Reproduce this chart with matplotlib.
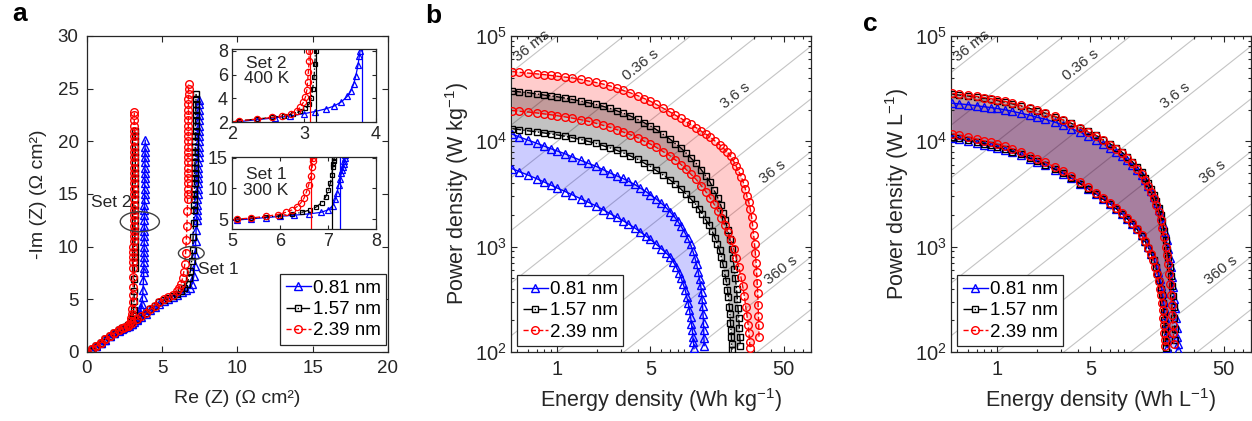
import numpy as np
import matplotlib.pyplot as plt
from matplotlib.patches import Ellipse
from matplotlib.ticker import LogLocator, NullFormatter

plt.rcParams['font.family'] = ['Liberation Sans', 'DejaVu Sans']
plt.rcParams['mathtext.fontset'] = 'custom'
plt.rcParams['mathtext.rm'] = 'Liberation Sans'
plt.rcParams['mathtext.it'] = 'Liberation Sans:italic'
plt.rcParams['mathtext.bf'] = 'Liberation Sans:bold'

INK = '#262626'

# series order: 0.81 nm, 1.57 nm, 2.39 nm
sizes = ['0.81 nm', '1.57 nm', '2.39 nm']
colors = ['blue', 'black', 'red']
markers = ['^', 's', 'o']
lstyles = ['-', '-.', '--']
msizes = [5.5, 4.0, 5.5]

# ---------------- panel a : Nyquist, Set 2 (400 K) ----------------
a2_x_081 = [0.0, 0.3, 0.6, 0.9, 1.2, 1.5, 1.8, 2.1, 2.35, 2.6,
            2.8, 3.0, 3.15, 3.3, 3.42, 3.52, 3.6, 3.65, 3.69, 3.72,
            3.75, 3.77,
            3.78, 3.78, 3.79, 3.79, 3.8, 3.8, 3.8, 3.81, 3.81, 3.81,
            3.82, 3.82, 3.82, 3.83, 3.83, 3.83, 3.84, 3.84, 3.84, 3.85,
            3.85, 3.85, 3.86, 3.86, 3.87]
a2_y_081 = [0.0, 0.28, 0.58, 0.88, 1.18, 1.48, 1.78, 2.03, 2.2, 2.35,
            2.5, 2.7, 2.88, 3.1, 3.35, 3.7, 4.15, 4.6, 5.2, 5.9,
            6.8, 7.6,
            8.0, 8.5, 9.0, 9.5, 10.0, 10.5, 11.0, 11.5, 12.0, 12.5,
            13.0, 13.5, 14.0, 14.5, 15.0, 15.5, 16.0, 16.5, 17.0, 17.5,
            18.0, 18.5, 19.0, 19.5, 20.1]
a2_x_157 = [0.0, 0.3, 0.6, 0.9, 1.2, 1.5, 1.8, 2.1, 2.35, 2.55,
            2.72, 2.85, 2.95, 3.02, 3.07, 3.1, 3.12, 3.14, 3.15, 3.16,
            3.16, 3.17, 3.17, 3.17, 3.18, 3.18, 3.18, 3.18, 3.19, 3.19,
            3.19, 3.19, 3.2, 3.2, 3.2, 3.2, 3.21, 3.21, 3.21, 3.21,
            3.21, 3.22, 3.22, 3.22, 3.22, 3.22]
a2_y_157 = [0.0, 0.3, 0.6, 0.9, 1.2, 1.5, 1.8, 2.1, 2.25, 2.38,
            2.52, 2.7, 2.9, 3.15, 3.5, 4.0, 4.8, 5.8, 6.9, 8.0,
            8.5, 9.0, 9.5, 10.0, 10.5, 11.0, 11.5, 12.0, 12.5, 13.0,
            13.5, 14.0, 14.5, 15.0, 15.5, 16.0, 16.5, 17.0, 17.5, 18.0,
            18.5, 19.0, 19.5, 20.0, 20.5, 21.0]
a2_x_239 = [0.0, 0.3, 0.6, 0.9, 1.2, 1.5, 1.8, 2.1, 2.35, 2.55,
            2.7, 2.82, 2.9, 2.95, 2.99, 3.02, 3.04, 3.05, 3.06, 3.07,
            3.07, 3.07, 3.08, 3.08, 3.08, 3.09, 3.09, 3.09, 3.1, 3.1,
            3.1, 3.1, 3.11, 3.11, 3.11, 3.11, 3.12, 3.12, 3.12, 3.12,
            3.13, 3.13, 3.13, 3.13, 3.13, 3.14, 3.14, 3.14, 3.14, 3.14,
            3.15]
a2_y_239 = [0.0, 0.3, 0.6, 0.9, 1.2, 1.5, 1.8, 2.1, 2.25, 2.38,
            2.5, 2.7, 2.95, 3.25, 3.65, 4.1, 4.7, 5.4, 6.2, 7.1,
            8.0, 8.5, 9.0, 9.5, 10.0, 10.5, 11.0, 11.5, 12.0, 12.5,
            13.0, 13.5, 14.0, 14.5, 15.0, 15.5, 16.0, 16.5, 17.0, 17.5,
            18.0, 18.5, 19.0, 19.5, 20.0, 20.5, 21.0, 21.5, 22.0, 22.5,
            22.8]

# ---------------- panel a : Nyquist, Set 1 (300 K) ----------------
a1_x_081 = [0.0, 0.3, 0.6, 0.9, 1.2, 1.5, 1.8, 2.1, 2.4, 2.7,
            3.0, 3.3, 3.6, 3.9, 4.2, 4.5, 4.8, 5.1, 5.4, 5.7,
            6.0, 6.3, 6.6, 6.85, 7.0, 7.1, 7.15, 7.19, 7.22, 7.25,
            7.28, 7.3, 7.32, 7.33, 7.34, 7.35, 7.36, 7.37, 7.38, 7.39,
            7.39, 7.4, 7.41, 7.41, 7.42, 7.43, 7.43, 7.44, 7.44, 7.45,
            7.45, 7.46, 7.46, 7.47]
a1_y_081 = [0.0, 0.28, 0.58, 0.88, 1.18, 1.48, 1.78, 2.05, 2.25, 2.45,
            2.7, 3.0, 3.3, 3.6, 3.95, 4.3, 4.6, 4.85, 5.05, 5.25,
            5.45, 5.65, 5.85, 6.1, 6.5, 7.2, 8.2, 9.3, 10.5, 11.6,
            12.5, 13.0, 13.5, 14.0, 14.5, 15.0, 15.5, 16.0, 16.5, 17.0,
            17.5, 18.0, 18.5, 19.0, 19.5, 20.0, 20.5, 21.0, 21.5, 22.0,
            22.5, 23.0, 23.5, 23.9]
a1_x_157 = [0.0, 0.3, 0.6, 0.9, 1.2, 1.5, 1.8, 2.1, 2.4, 2.7,
            3.0, 3.3, 3.6, 3.9, 4.2, 4.5, 4.8, 5.1, 5.4, 5.7,
            6.0, 6.25, 6.45, 6.62, 6.76, 6.87, 6.95, 7.01, 7.05, 7.08,
            7.1, 7.11, 7.12, 7.13, 7.14, 7.15, 7.15, 7.16, 7.17, 7.17,
            7.18, 7.19, 7.19, 7.2, 7.2, 7.21, 7.21, 7.22, 7.22, 7.23,
            7.23, 7.24, 7.25]
a1_y_157 = [0.0, 0.3, 0.6, 0.9, 1.2, 1.5, 1.8, 2.1, 2.3, 2.5,
            2.8, 3.1, 3.4, 3.7, 4.05, 4.4, 4.7, 4.95, 5.15, 5.35,
            5.55, 5.8, 6.1, 6.5, 7.0, 7.7, 8.6, 9.7, 10.9, 12.2,
            13.5, 14.0, 14.5, 15.0, 15.5, 16.0, 16.5, 17.0, 17.5, 18.0,
            18.5, 19.0, 19.5, 20.0, 20.5, 21.0, 21.5, 22.0, 22.5, 23.0,
            23.5, 24.0, 24.5]
a1_x_239 = [0.0, 0.3, 0.6, 0.9, 1.2, 1.5, 1.8, 2.1, 2.4, 2.7,
            3.0, 3.3, 3.6, 3.9, 4.2, 4.5, 4.8, 5.1, 5.4, 5.7,
            5.95, 6.12, 6.25, 6.35, 6.43, 6.5, 6.55, 6.6, 6.64, 6.67,
            6.68, 6.68, 6.69, 6.69, 6.7, 6.7, 6.7, 6.71, 6.71, 6.71,
            6.72, 6.72, 6.72, 6.73, 6.73, 6.73, 6.74, 6.74, 6.74, 6.74,
            6.75, 6.75, 6.75]
a1_y_239 = [0.0, 0.3, 0.6, 0.9, 1.2, 1.5, 1.8, 2.1, 2.3, 2.5,
            2.8, 3.1, 3.4, 3.7, 4.05, 4.4, 4.75, 5.0, 5.2, 5.45,
            5.75, 6.1, 6.5, 7.0, 7.6, 8.4, 9.4, 10.6, 12.0, 13.4,
            14.5, 15.0, 15.5, 16.0, 16.5, 17.0, 17.5, 18.0, 18.5, 19.0,
            19.5, 20.0, 20.5, 21.0, 21.5, 22.0, 22.5, 23.0, 23.5, 24.0,
            24.5, 25.0, 25.4]

# thin vertical lines seen in the insets
inset_set2_vlines = [3.8, 3.16, 3.08]
inset_set1_vlines = [7.26, 7.08, 6.65]

# ---------------- panel b : gravimetric Ragone (Wh/kg, W/kg) ----------------
b_E_hi_081 = [0.46, 0.52, 0.6, 0.7, 0.8, 0.9, 1.0, 1.15, 1.3, 1.5,
              1.7, 1.95, 2.2, 2.5, 2.8, 3.1, 3.4, 3.8, 4.2, 4.6,
              5.0, 5.5, 6.0, 6.5, 7.0, 7.5, 8.0, 8.5, 9.0, 9.5,
              10.0, 10.4, 10.8, 11.1, 11.4, 11.7, 11.9, 12.1, 12.2, 12.3,
              12.4, 12.5, 12.55, 12.6, 12.65]
b_P_hi_081 = [11700, 11000, 10300, 9600, 9000, 8500, 8100, 7600, 7100, 6600,
              6200, 5800, 5400, 5000, 4700, 4450, 4200, 3900, 3600, 3350,
              3100, 2850, 2600, 2370, 2150, 1950, 1750, 1560, 1380, 1210,
              1050, 910, 780, 680, 580, 490, 430, 370, 320, 275,
              230, 190, 160, 135, 115]
b_E_lo_081 = [0.46, 0.52, 0.6, 0.7, 0.8, 0.9, 1.0, 1.15, 1.3, 1.5,
              1.7, 1.95, 2.2, 2.5, 2.8, 3.1, 3.4, 3.8, 4.2, 4.6,
              5.0, 5.5, 6.0, 6.5, 7.0, 7.4, 7.8, 8.2, 8.5, 8.8,
              9.1, 9.35, 9.6, 9.8, 10.0, 10.15, 10.3, 10.4, 10.5, 10.6]
b_P_lo_081 = [5500, 5150, 4800, 4420, 4100, 3830, 3600, 3330, 3100, 2850,
              2650, 2440, 2250, 2050, 1900, 1770, 1650, 1510, 1380, 1270,
              1170, 1060, 960, 880, 800, 720, 640, 565, 500, 440,
              390, 335, 290, 250, 215, 185, 160, 140, 125, 108]
b_E_hi_157 = [0.46, 0.52, 0.6, 0.7, 0.8, 0.9, 1.0, 1.15, 1.3, 1.5,
              1.7, 1.95, 2.2, 2.5, 2.8, 3.1, 3.5, 4.0, 4.5, 5.0,
              5.5, 6.2, 7.0, 7.7, 8.5, 9.2, 10, 11, 12, 13,
              14, 15, 16, 16.8, 17.5, 18.2, 19, 19.7, 20.3, 20.8,
              21.3, 21.7, 22.1, 22.4, 22.7, 23.0, 23.2, 23.4, 23.6]
b_P_hi_157 = [30000, 29500, 29000, 28200, 27500, 27000, 26500, 25700, 25000, 24100,
              23300, 22400, 21500, 20500, 19500, 18600, 17500, 16200, 15000, 14000,
              13000, 11700, 10500, 9500, 8600, 7800, 7000, 6200, 5400, 4700,
              4100, 3450, 2900, 2500, 2100, 1780, 1450, 1180, 950, 780,
              620, 500, 400, 320, 260, 210, 170, 140, 115]
b_E_lo_157 = [0.46, 0.52, 0.6, 0.7, 0.8, 0.9, 1.0, 1.15, 1.3, 1.5,
              1.7, 1.95, 2.2, 2.5, 2.8, 3.1, 3.5, 4.0, 4.5, 5.0,
              5.5, 6.2, 7.0, 7.7, 8.5, 9.2, 10, 10.8, 11.5, 12.2,
              13, 13.8, 14.5, 15.2, 15.9, 16.5, 17, 17.5, 18, 18.5,
              18.9, 19.2, 19.5, 19.7, 19.9, 20.1, 20.2, 20.3, 20.4]
b_P_lo_157 = [13200, 12900, 12600, 12300, 12000, 11750, 11500, 11150, 10800, 10400,
              10000, 9550, 9100, 8650, 8200, 7800, 7300, 6750, 6200, 5750,
              5300, 4800, 4300, 3900, 3500, 3170, 2850, 2560, 2300, 2050,
              1800, 1600, 1400, 1220, 1050, 920, 800, 680, 560, 470,
              390, 330, 270, 230, 190, 160, 140, 120, 105]
b_E_hi_239 = [0.46, 0.52, 0.6, 0.7, 0.8, 0.9, 1.0, 1.15, 1.3, 1.5,
              1.7, 1.95, 2.2, 2.5, 2.8, 3.1, 3.5, 4.0, 4.5, 5.0,
              5.5, 6.2, 7.0, 7.7, 8.5, 9.2, 10, 11, 12, 13,
              14, 15.2, 16.5, 17.6, 18.8, 20, 21, 22, 23, 24,
              25, 25.8, 26.5, 27.3, 28, 28.7, 29.2, 29.7, 30.2, 30.6,
              31, 31.3, 31.6, 31.9, 32.1, 32.3, 32.45, 32.6]
b_P_hi_239 = [46000, 45200, 44500, 43700, 43000, 42200, 41500, 40700, 40000, 38700,
              37500, 36200, 35000, 33500, 32000, 30500, 29000, 27200, 25500, 24000,
              22500, 20700, 19000, 17700, 16500, 15400, 14500, 13500, 12500, 11700,
              11000, 10100, 9300, 8600, 8000, 7200, 6500, 5800, 5200, 4600,
              4000, 3500, 3000, 2650, 2300, 1900, 1600, 1300, 1050, 870,
              700, 570, 450, 360, 280, 220, 180, 140]
b_E_lo_239 = [0.46, 0.52, 0.6, 0.7, 0.8, 0.9, 1.0, 1.15, 1.3, 1.5,
              1.7, 1.95, 2.2, 2.5, 2.8, 3.1, 3.5, 4.0, 4.5, 5.0,
              5.5, 6.2, 7.0, 7.7, 8.5, 9.2, 10, 11, 12, 13,
              14, 15, 16, 17, 18, 19, 20, 21, 22, 23,
              23.8, 24.6, 25.3, 25.9, 26.5, 27, 27.4, 27.7, 28]
b_P_lo_239 = [19600, 19300, 19000, 18600, 18200, 17850, 17500, 17050, 16600, 16050,
              15500, 14850, 14200, 13550, 12900, 12300, 11600, 10800, 10000, 9400,
              8800, 8000, 7300, 6650, 6000, 5450, 4900, 4350, 3800, 3330,
              2900, 2530, 2200, 1880, 1600, 1370, 1150, 960, 780, 640,
              520, 420, 340, 270, 220, 180, 150, 125, 108]

# ---------------- panel c : volumetric Ragone (Wh/L, W/L) ----------------
c_E_hi_081 = [0.46, 0.52, 0.6, 0.7, 0.8, 0.9, 1.0, 1.15, 1.3, 1.5,
              1.76, 2.0, 2.3, 2.7, 3.1, 3.6, 4.2, 4.8, 5.5, 6.2,
              7.0, 7.8, 8.6, 9.4, 10.3, 11.2, 12.1, 12.9, 13.6, 14.3,
              15.0, 15.7, 16.3, 16.9, 17.5, 18.1, 18.6, 19.1, 19.6, 20.1,
              20.5, 20.9, 21.3, 21.6, 21.9, 22.2, 22.4, 22.6, 22.7]
c_P_hi_081 = [23000, 22700, 22300, 21800, 21300, 20900, 20500, 19900, 19300, 18500,
              17700, 16900, 16200, 15200, 14300, 13200, 12200, 11300, 10400, 9500,
              8700, 8000, 7300, 6650, 6000, 5400, 4800, 4300, 3800, 3350,
              2950, 2580, 2250, 1950, 1650, 1380, 1150, 950, 780, 640,
              510, 410, 320, 260, 210, 170, 140, 120, 105]
c_E_lo_081 = [0.46, 0.52, 0.6, 0.7, 0.8, 0.9, 1.0, 1.15, 1.3, 1.5,
              1.76, 2.0, 2.3, 2.7, 3.1, 3.6, 4.2, 4.8, 5.5, 6.2,
              7.0, 7.8, 8.6, 9.4, 10.3, 11.2, 12.1, 12.9, 13.6, 14.3,
              15.0, 15.6, 16.1, 16.6, 17.0, 17.4, 17.7, 18.0, 18.2, 18.4,
              18.6, 18.75, 18.9]
c_P_lo_081 = [10800, 10450, 10100, 9700, 9300, 9000, 8700, 8300, 7900, 7400,
              6850, 6400, 5950, 5400, 4950, 4450, 3950, 3550, 3150, 2830,
              2550, 2300, 2050, 1850, 1650, 1460, 1280, 1120, 990, 860,
              760, 660, 570, 490, 420, 360, 300, 250, 210, 180,
              150, 130, 110]
c_E_hi_157 = [0.46, 0.52, 0.6, 0.7, 0.8, 0.9, 1.0, 1.15, 1.3, 1.5,
              1.76, 2.0, 2.3, 2.7, 3.1, 3.6, 4.2, 4.8, 5.5, 6.2,
              7.0, 7.8, 8.6, 9.4, 10.3, 11.2, 12.1, 12.9, 13.6, 14.3,
              15.0, 15.6, 16.2, 16.8, 17.3, 17.8, 18.3, 18.8, 19.2, 19.6,
              20.0, 20.4, 20.7, 21.0, 21.3, 21.5, 21.7]
c_P_hi_157 = [28000, 27500, 27000, 26300, 25600, 25000, 24400, 23500, 22700, 21600,
              20500, 19500, 18500, 17200, 16000, 14800, 13500, 12400, 11400, 10400,
              9500, 8700, 7900, 7100, 6400, 5700, 5100, 4500, 4000, 3500,
              3100, 2700, 2350, 2000, 1700, 1420, 1150, 920, 780, 640,
              530, 420, 340, 270, 210, 165, 130]
c_E_lo_157 = [0.46, 0.52, 0.6, 0.7, 0.8, 0.9, 1.0, 1.15, 1.3, 1.5,
              1.76, 2.0, 2.3, 2.7, 3.1, 3.6, 4.2, 4.8, 5.5, 6.2,
              7.0, 7.8, 8.6, 9.4, 10.3, 11.2, 12.1, 12.9, 13.6, 14.3,
              14.9, 15.4, 15.9, 16.4, 16.8, 17.1, 17.4, 17.7, 17.9, 18.1,
              18.2, 18.3, 18.4]
c_P_lo_157 = [11000, 10650, 10300, 9900, 9500, 9150, 8800, 8400, 8000, 7500,
              6900, 6450, 6000, 5450, 5000, 4450, 3950, 3550, 3150, 2830,
              2550, 2300, 2050, 1850, 1650, 1460, 1270, 1110, 970, 840,
              740, 640, 550, 470, 400, 345, 290, 240, 200, 170,
              145, 125, 110]
c_E_hi_239 = [0.46, 0.52, 0.6, 0.7, 0.8, 0.9, 1.0, 1.15, 1.3, 1.5,
              1.76, 2.0, 2.3, 2.7, 3.1, 3.6, 4.2, 4.8, 5.5, 6.2,
              7.0, 7.8, 8.6, 9.4, 10.3, 11.2, 12.1, 12.9, 13.6, 14.3,
              15.0, 15.6, 16.2, 16.8, 17.3, 17.8, 18.3, 18.7, 19.1, 19.5,
              19.8, 20.1, 20.4, 20.6, 20.8, 20.95, 21.1]
c_P_hi_239 = [28500, 28000, 27500, 26700, 26000, 25400, 24800, 23900, 23000, 21900,
              20700, 19700, 18600, 17300, 16000, 14700, 13400, 12300, 11300, 10300,
              9300, 8500, 7700, 6950, 6200, 5500, 4900, 4330, 3800, 3330,
              2900, 2500, 2150, 1800, 1500, 1230, 1000, 830, 680, 550,
              440, 350, 280, 225, 180, 150, 120]
c_E_lo_239 = [0.46, 0.52, 0.6, 0.7, 0.8, 0.9, 1.0, 1.15, 1.3, 1.5,
              1.76, 2.0, 2.3, 2.7, 3.1, 3.6, 4.2, 4.8, 5.5, 6.2,
              7.0, 7.8, 8.6, 9.4, 10.3, 11.2, 12.1, 12.9, 13.6, 14.2,
              14.8, 15.3, 15.8, 16.2, 16.6, 16.9, 17.2, 17.4, 17.6, 17.8,
              17.9, 18.0, 18.1]
c_P_lo_239 = [11800, 11400, 11000, 10500, 10100, 9750, 9400, 8950, 8500, 7950,
              7300, 6800, 6300, 5700, 5200, 4650, 4100, 3650, 3250, 2900,
              2600, 2340, 2100, 1880, 1680, 1480, 1280, 1120, 970, 850,
              740, 640, 550, 470, 400, 345, 290, 250, 210, 180,
              150, 130, 115]

# constant discharge-time guide lines (s) and their labels
guide_times = [0.036, 0.1138, 0.36, 1.138, 3.6, 11.38, 36, 113.8, 360, 1138]
label_times = [0.036, 0.36, 3.6, 36, 360]
label_text = ['36 ms', '0.36 s', '3.6 s', '36 s', '360 s']
label_E = [0.64, 4.2, 21.8, 41.4, 47.6]

W, H = 1252, 421
fig = plt.figure(figsize=(W / 100, H / 100), dpi=100)


def px_axes(x0, y0, x1, y1):
    return fig.add_axes([x0 / W, 1 - y1 / H, (x1 - x0) / W, (y1 - y0) / H])


def style_axes(ax, fs=13.5, pad=5):
    ax.tick_params(which='both', direction='in', top=True, right=True,
                   colors=INK, labelsize=fs, pad=pad, width=0.8)
    ax.tick_params(which='major', length=4)
    ax.tick_params(which='minor', length=2)
    for s in ax.spines.values():
        s.set_color(INK)
        s.set_linewidth(0.9)


def legend(ax, **kw):
    lg = ax.legend(fontsize=13.5, frameon=True, fancybox=False, framealpha=1,
                   edgecolor=INK, borderaxespad=0, handlelength=1.35,
                   handletextpad=0.1, borderpad=0.3, labelspacing=0.22, **kw)
    lg.get_frame().set_linewidth(0.9)
    return lg


# ======================= panel a =======================
axa = px_axes(87, 36, 388, 352)
set2 = [(a2_x_081, a2_y_081), (a2_x_157, a2_y_157), (a2_x_239, a2_y_239)]
set1 = [(a1_x_081, a1_y_081), (a1_x_157, a1_y_157), (a1_x_239, a1_y_239)]
for i in range(3):
    kw = dict(color=colors[i], marker=markers[i], ls=lstyles[i], ms=msizes[i],
              mfc='none', mew=1.0, lw=1.0)
    axa.plot(*set2[i], label=sizes[i], **kw)
    axa.plot(*set1[i], **kw)
axa.set_xlim(0, 20)
axa.set_ylim(0, 30)
axa.set_xticks([0, 5, 10, 15, 20])
axa.set_yticks([0, 5, 10, 15, 20, 25, 30])
style_axes(axa, pad=6)
axa.set_xlabel('Re (Z) (Ω cm²)', fontsize=14, color=INK, labelpad=9)
axa.set_ylabel('-Im (Z) (Ω cm²)', fontsize=14, color=INK, labelpad=8)
axa.add_patch(Ellipse((3.51, 12.37), 2.6, 1.9, fill=False, ec='#404040', lw=1.0, zorder=5))
axa.add_patch(Ellipse((6.93, 9.38), 1.71, 1.26, fill=False, ec='#404040', lw=1.0, zorder=5))
axa.text(1.58, 14.2, 'Set 2', fontsize=12.5, color=INK, ha='center', va='center')
axa.text(8.75, 7.84, 'Set 1', fontsize=12.5, color=INK, ha='center', va='center')
legend(axa, loc='lower right', bbox_to_anchor=(0.995, 0.022))

# insets
ins1 = px_axes(232, 49, 376, 122)
ins2 = px_axes(232, 157, 376, 229)
for ax_in, data, vl, xl, yl, xt, yt in [
        (ins1, set2, inset_set2_vlines, (2, 4), (2, 8.15), [2, 3, 4], [2, 4, 6, 8]),
        (ins2, set1, inset_set1_vlines, (5, 8), (3.4, 15.1), [5, 6, 7, 8], [5, 10, 15])]:
    for i in range(3):
        ax_in.plot(*data[i], color=colors[i], marker=markers[i], ls=lstyles[i],
                   ms=msizes[i] - 1, mfc='none', mew=0.9, lw=0.9)
        ax_in.axvline(vl[i], color=colors[i], lw=0.9)
    ax_in.set_xlim(*xl)
    ax_in.set_ylim(*yl)
    ax_in.set_xticks(xt)
    ax_in.set_yticks(yt)
    style_axes(ax_in, fs=13, pad=3)
    ax_in.tick_params(which='major', length=3)
ins1.text(2.48, 6.28, 'Set 2\n400 K', fontsize=12.5, color=INK, ha='center',
          va='center', linespacing=1.05)
ins2.text(5.71, 11.0, 'Set 1\n300 K', fontsize=12.5, color=INK, ha='center',
          va='center', linespacing=1.05)


# ======================= panels b, c =======================
def ragone(ax, curves, unit, fill_order, fill_alpha):
    ax.set_xscale('log')
    ax.set_yscale('log')
    ax.set_xlim(0.45, 80)
    ax.set_ylim(100, 1e5)
    xl = np.array(ax.get_xlim())
    for t in guide_times:
        ax.plot(xl, xl * 3600 / t, color='#c4c4c4', lw=0.8, zorder=0)
    p1 = ax.transData.transform((1, 1e3))
    p2 = ax.transData.transform((10, 1e4))
    ang = np.degrees(np.arctan2(p2[1] - p1[1], p2[0] - p1[0]))
    for t, s, e in zip(label_times, label_text, label_E):
        ax.text(e, e * 3600 / t * 1.25, s, rotation=ang, rotation_mode='anchor',
                ha='center', va='center', fontsize=11, color='#333333', zorder=1)
    for i in fill_order:
        Eh, Ph, El, Pl = curves[i]
        ax.fill(np.concatenate([Eh, El[::-1]]), np.concatenate([Ph, Pl[::-1]]),
                color=colors[i], alpha=fill_alpha[i], lw=0, zorder=1)
    for i, (Eh, Ph, El, Pl) in enumerate(curves):
        kw = dict(color=colors[i], marker=markers[i], ls=lstyles[i], ms=msizes[i],
                  mfc='none', mew=1.0, lw=1.0, zorder=3)
        ax.plot(Eh, Ph, label=sizes[i], **kw)
        ax.plot(El, Pl, **kw)
    ax.set_xticks([1, 5, 50])
    ax.set_xticklabels(['1', '5', '50'])
    ax.xaxis.set_minor_locator(LogLocator(base=10, subs=np.arange(2, 10)))
    ax.xaxis.set_minor_formatter(NullFormatter())
    ax.set_yticks([1e2, 1e3, 1e4, 1e5])
    ax.set_yticklabels([r'$\mathregular{10^{%d}}$' % k for k in (2, 3, 4, 5)])
    ax.yaxis.set_minor_locator(LogLocator(base=10, subs=np.arange(2, 10)))
    ax.yaxis.set_minor_formatter(NullFormatter())
    style_axes(ax, fs=14.5, pad=6)
    ax.tick_params(axis='y', pad=3)
    ax.set_xlabel('Energy density (Wh %s$^{\\mathregular{-1}}$)' % unit,
                  fontsize=15.5, color=INK, labelpad=5)
    ax.set_ylabel('Power density (W %s$^{\\mathregular{-1}}$)' % unit,
                  fontsize=15.5, color=INK, labelpad=3)
    legend(ax, loc='lower left', bbox_to_anchor=(0.02, 0.018))


def arr(*v):
    return [np.array(x, dtype=float) for x in v]


axb = px_axes(511, 36, 811, 352)
ragone(axb, [arr(b_E_hi_081, b_P_hi_081, b_E_lo_081, b_P_lo_081),
             arr(b_E_hi_157, b_P_hi_157, b_E_lo_157, b_P_lo_157),
             arr(b_E_hi_239, b_P_hi_239, b_E_lo_239, b_P_lo_239)], 'kg',
       (2, 1, 0), [0.2, 0.24, 0.2])

axc = px_axes(951, 36, 1251, 352)
ragone(axc, [arr(c_E_hi_081, c_P_hi_081, c_E_lo_081, c_P_lo_081),
             arr(c_E_hi_157, c_P_hi_157, c_E_lo_157, c_P_lo_157),
             arr(c_E_hi_239, c_P_hi_239, c_E_lo_239, c_P_lo_239)], 'L',
       (0, 2, 1), [0.2, 0.22, 0.2])

fig.text(12 / W, 1 - 21 / H, 'a', fontsize=19, fontweight='bold', va='baseline')
fig.text(425 / W, 1 - 23 / H, 'b', fontsize=19, fontweight='bold', va='baseline')
fig.text(863 / W, 1 - 31 / H, 'c', fontsize=19, fontweight='bold', va='baseline')

fig.savefig('out.png', dpi=100)
